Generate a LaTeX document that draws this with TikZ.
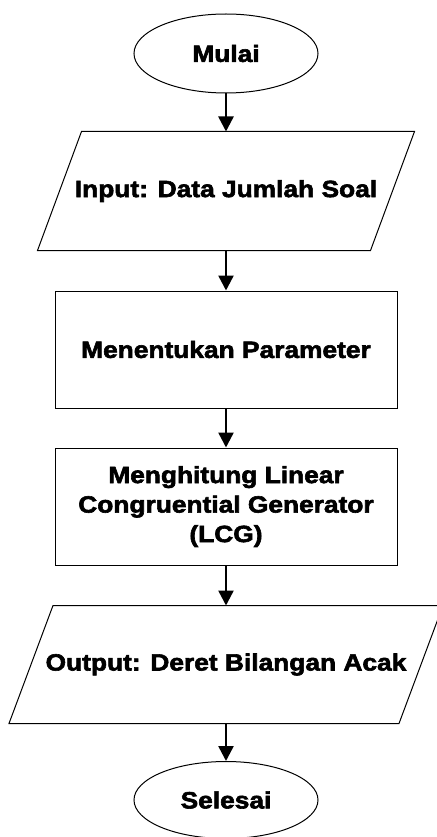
\documentclass[tikz,border=0pt]{standalone}
\usepackage{fontspec}
\setmainfont{Liberation Sans}[FakeStretch=1.12, BoldFeatures={FakeBold=2.5}]
\usetikzlibrary{shapes.geometric,arrows.meta}
\tikzset{
  terminal/.style={draw, ellipse, minimum width=184pt, minimum height=79pt, inner sep=0pt},
  iobody/.style={rectangle, minimum height=118pt, inner sep=0pt},
  process/.style={draw, rectangle, minimum width=342pt, minimum height=117pt,
    inner sep=0pt, align=center},
  flow/.style={-{Triangle[width=15pt,length=15pt]}, line width=2.5pt},
}
% slanted outline round an io node
\newcommand{\ioslant}[1]{%
  \draw ([xshift=22pt]#1.north west) -- ([xshift=22pt]#1.north east)
    -- ([xshift=-22pt]#1.south east) -- ([xshift=-22pt]#1.south west) -- cycle;}
\begin{document}
\begin{tikzpicture}[x=1pt, y=-1pt, line width=1pt,
    font=\bfseries\fontsize{23.5}{29.5}\selectfont]
      \useasboundingbox (0,0) rectangle (436,837);
      \draw
        (226,53.5) node[terminal] (0){Mulai}
        (226,191) node[iobody, minimum width=332pt] (1){Input: Data Jumlah Soal}
        (226,349.5) node[process] (2){Menentukan Parameter}
        (226,506.5) node[process] (3){Menghitung Linear\\Congruential Generator\\(LCG)}
        (226,664.5) node[iobody, minimum width=389pt, minimum height=117pt] (4){Output: Deret Bilangan Acak}
        (226,800) node[terminal, minimum height=77pt] (5){Selesai};
      \ioslant{1}
      \ioslant{4}
      \begin{scope}[flow]
        \draw (0) to (1);
        \draw (1) to (2);
        \draw (2) to (3);
        \draw (3) to (4);
        \draw (4) to (5);
      \end{scope}
    \end{tikzpicture}
\end{document}
